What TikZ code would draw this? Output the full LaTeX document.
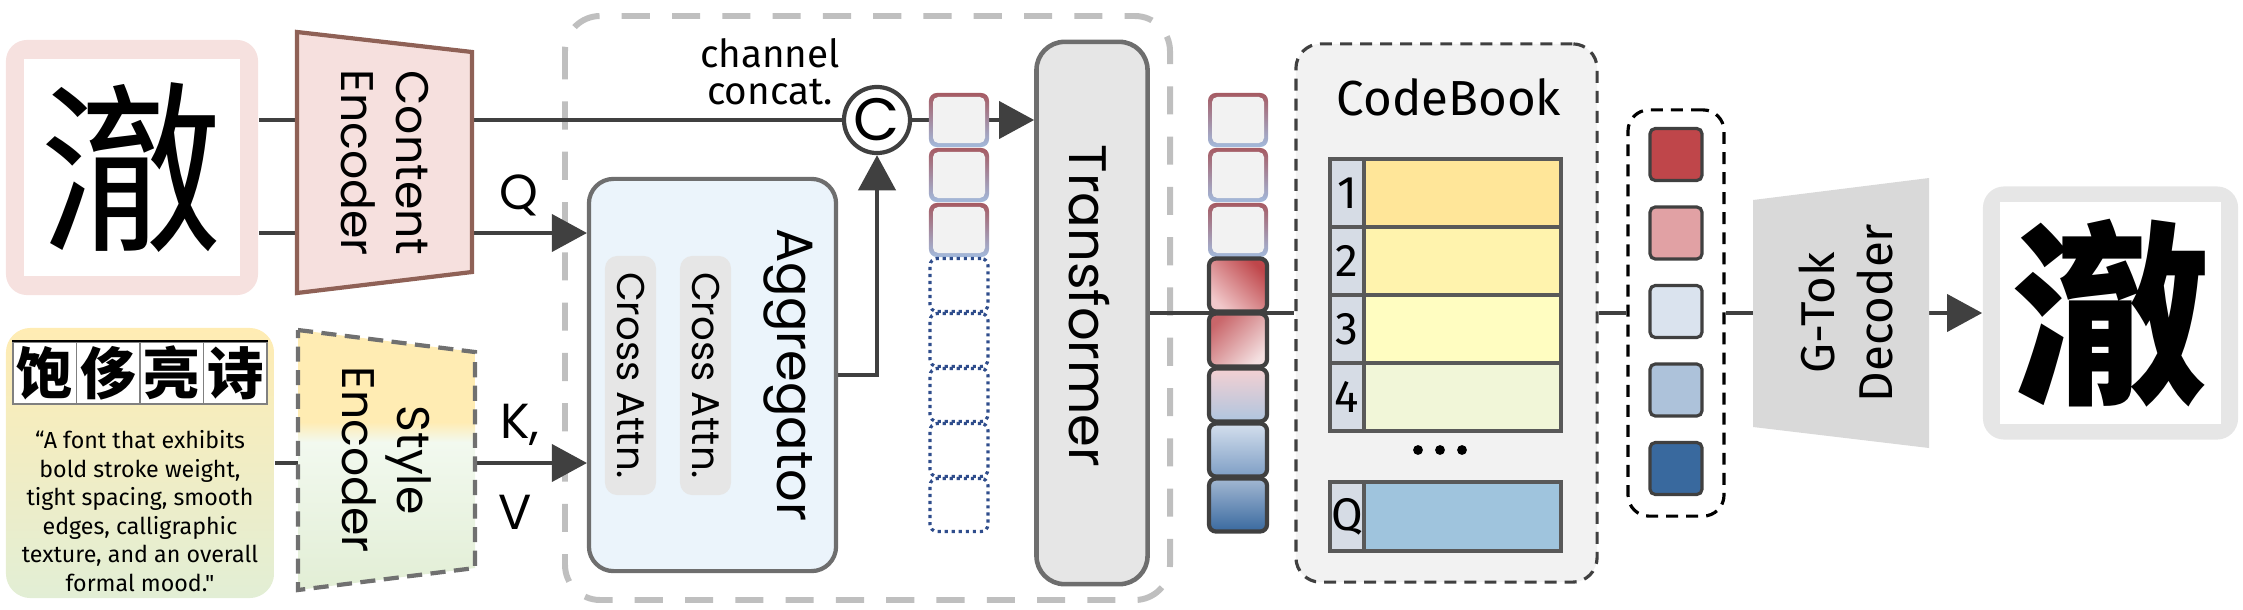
\documentclass[tikz,border=0pt]{standalone}
\usepackage{fontspec}
\setmainfont{Poppins}
\newfontfamily\comicfont{Fira Sans}
\newfontfamily\cjk{Noto Sans CJK SC}
\usetikzlibrary{arrows.meta,backgrounds}

\definecolor{lngray}{HTML}{404040}
\definecolor{pinkbg}{HTML}{F6E1DF}
\definecolor{cefill}{HTML}{F6E0DE}
\definecolor{cebrown}{HTML}{8F6156}
\definecolor{biggray}{HTML}{BFBFBF}
\definecolor{aggblue}{HTML}{EBF4FB}
\definecolor{boxgray}{HTML}{6E6E6E}
\definecolor{pillgray}{HTML}{E6E6E6}
\definecolor{tfgray}{HTML}{E6E6E6}
\definecolor{tokred}{HTML}{A65B63}
\definecolor{tokblue}{HTML}{A3BADC}
\definecolor{tokfill}{HTML}{F2F2F2}
\definecolor{tokdot}{HTML}{2F4D8C}
\definecolor{cbfill}{HTML}{F2F2F2}
\definecolor{rowA}{HTML}{FFE699}
\definecolor{rowB}{HTML}{FFF3AD}
\definecolor{rowC}{HTML}{FFFDC1}
\definecolor{rowD}{HTML}{F1F6D8}
\definecolor{rowQ}{HTML}{9FC4DD}
\definecolor{idxgray}{HTML}{D6DCE5}
\definecolor{rowline}{HTML}{595959}
\definecolor{sqA}{HTML}{BF464A}
\definecolor{sqB}{HTML}{E1A1A4}
\definecolor{sqC}{HTML}{DAE3EE}
\definecolor{sqD}{HTML}{ADC2DA}
\definecolor{sqE}{HTML}{39699E}
\definecolor{tokpinkA}{HTML}{F1C9CB}
\definecolor{tokredB}{HTML}{C9666A}
\definecolor{tokpinkB}{HTML}{F4E0E1}
\definecolor{tokpinkC}{HTML}{F4D0D2}
\definecolor{tokwhiteC}{HTML}{E4E7EF}
\definecolor{tokblueC}{HTML}{AFC5DF}
\definecolor{tokblueD}{HTML}{D4DFED}
\definecolor{tokblueDD}{HTML}{7E9EC5}
\definecolor{tokblueE}{HTML}{A3B8D3}
\definecolor{decgray}{HTML}{D9D9D9}
\definecolor{outgray}{HTML}{E6E6E6}
\definecolor{styyel}{HTML}{FFECB3}
\definecolor{stymint}{HTML}{F2F9EF}
\definecolor{stygreen}{HTML}{E2EED5}
\definecolor{sedash}{HTML}{707070}

\begin{document}
\begin{tikzpicture}[x=0.01cm,y=-0.01cm,
    ln/.style={draw=lngray,line width=1.3pt},
    arr/.style={ln,-{Triangle[length=10pt,width=10.5pt]}},
    enctxt/.style={font=\fontsize{13pt}{15.6pt}\selectfont,align=center,inner sep=0pt},
    kqv/.style={font=\fontsize{14pt}{14pt}\selectfont,inner sep=0pt},
    pill/.style={fill=pillgray,rounded corners=3.5pt,rotate=-90,minimum width=2.39cm,minimum height=0.51cm,inner sep=0pt,font=\fontsize{11pt}{11pt}\selectfont},
    tokrim/.style={top color=tokred,middle color=tokred,bottom color=tokblue,rounded corners=2.2pt,minimum width=0.60cm,minimum height=0.54cm,inner sep=0pt},
    tokcore/.style={fill=tokfill,rounded corners=1.5pt,minimum width=0.52cm,minimum height=0.46cm,inner sep=0pt},
    tokdotted/.style={draw=tokdot,line width=0.9pt,dash pattern=on 0.9pt off 1.1pt,fill=white,rounded corners=2pt,minimum width=0.58cm,minimum height=0.53cm,inner sep=0pt},
    otok/.style={draw=lngray,line width=1.2pt,rounded corners=2pt,minimum width=0.58cm,minimum height=0.53cm,inner sep=0pt},
    cbrow/.style={draw=rowline,line width=0.9pt},
    cbnum/.style={font=\comicfont\fontsize{13pt}{13pt}\selectfont,inner sep=0pt}]
\useasboundingbox (0,0) rectangle (2243,609);

% вхідний символ
\node[fill=pinkbg,rounded corners=6pt,minimum width=2.52cm,minimum height=2.55cm] (src) at (132,167.5) {};
\node[fill=white,inner sep=0pt,minimum width=2.16cm,minimum height=2.17cm,font=\cjk\fontsize{52pt}{52pt}\selectfont] (srcin) at (src.center) {澈};

% кодувальник змісту
\draw[fill=cefill,draw=cebrown,line width=1.2pt] (297,32) -- (472,52) -- (472,272) -- (297,293) -- cycle;
\node[enctxt,rotate=-90] (cetxt) at (385,163) {Content\\Encoder};

% зразки стилю і опис
\node[minimum width=2.68cm,minimum height=2.70cm,rounded corners=7pt,top color=styyel,middle color=stymint,bottom color=stygreen] (sty) at (140,463) {};
\foreach \i/\ch in {0/饱,1/侈,2/亮,3/诗}
  \node[draw=gray,line width=0.4pt,fill=white,inner sep=0pt,minimum width=0.635cm,minimum height=0.62cm,font=\cjk\bfseries\fontsize{16pt}{16pt}\selectfont] (ch\i) at ({44.75+63.5*\i},373) {\ch};
\draw[black,line width=0.6pt] (ch0.north west) -- (ch3.north east);
\node[font=\comicfont\fontsize{6.6pt}{8.1pt}\selectfont,align=center,inner sep=0pt] (quote) at (140,511) {“A font that exhibits\\bold stroke weight,\\tight spacing, smooth\\edges, calligraphic\\texture, and an overall\\formal mood."};

% кодувальник стилю
\begin{scope}
  \clip (298,330) -- (475,352) -- (475,568) -- (298,590) -- cycle;
  \fill[styyel] (298,330) rectangle (475,422);
  \shade[top color=styyel,bottom color=stymint] (298,422) rectangle (475,442);
  \shade[top color=stymint,bottom color=stygreen] (298,442) rectangle (475,590);
\end{scope}
\draw[draw=sedash,line width=1.2pt,dash pattern=on 4.3pt off 2.4pt] (298,330) -- (475,352) -- (475,568) -- (298,590) -- cycle;
\node[enctxt,rotate=-90] (setxt) at (387,460) {Style\\Encoder};

% підписи Q, K, V
\node[kqv] (qlbl) at (519,195) {Q};
\node[kqv] (klbl) at (520,425) {K,};
\node[kqv] (vlbl) at (515,512) {V};
\coordinate (aggq) at (587,233);
\coordinate (aggkv) at (587,463);

% агрегатор
\node[draw=boxgray,line width=1.2pt,fill=aggblue,rounded corners=7pt,minimum width=2.47cm,minimum height=3.92cm] (agg) at (712.5,375) {};
\node[font=\fontsize{14.5pt}{14.5pt}\selectfont,rotate=-90,inner sep=0pt] (aggtxt) at (788,375) {Aggregator};
\node[pill] (ca1) at (630.5,375.5) {Cross Attn.};
\node[pill] (ca2) at (705.5,375.5) {Cross Attn.};

% конкатенація каналів
\node[font=\comicfont\fontsize{11pt}{10.5pt}\selectfont,align=center,inner sep=0pt] (cctxt) at (770,72) {channel\\concat.};
\node[circle,draw=lngray,line width=1.2pt,fill=white,minimum size=0.66cm,inner sep=0pt,font=\fontsize{17pt}{17pt}\selectfont] (cc) at (877,120) {C};

% токени до і після трансформера
\foreach \x in {959,1238}
  \foreach \k in {0,1,2} {
    \node[tokrim] at (\x,{120+55*\k}) {};
    \node[tokcore] at (\x,{120+55*\k}) {};
  }
\foreach \k in {3,...,7}
  \node[tokdotted] (it\k) at (959,{120+55*\k}) {};
\node[otok,top color=sqA,bottom color=tokpinkA,shading angle=-45] (ot3) at (1238,285) {};
\node[otok,top color=tokredB,bottom color=tokpinkB,shading angle=45] (ot4) at (1238,340) {};
\node[otok,top color=tokpinkC,middle color=tokwhiteC,bottom color=tokblueC] (ot5) at (1238,395) {};
\node[otok,top color=tokblueD,bottom color=tokblueDD] (ot6) at (1238,450) {};
\node[otok,top color=tokblueE,bottom color=sqE] (ot7) at (1238,505) {};

% трансформер
\node[draw=boxgray,line width=1.3pt,fill=tfgray,rounded corners=8pt,minimum width=1.11cm,minimum height=5.42cm] (tf) at (1092,313) {};
\node[font=\fontsize{15pt}{15pt}\selectfont,rotate=-90,inner sep=0pt] (tftxt) at (1089,306) {Transformer};

% кодова книга
\node[draw=lngray,line width=0.9pt,dash pattern=on 3.4pt off 2.3pt,fill=cbfill,rounded corners=7pt,minimum width=3.01cm,minimum height=5.38cm] (cb) at (1446.5,313) {};
\node[font=\comicfont\fontsize{14pt}{14pt}\selectfont,inner sep=0pt] (cbtxt) at (1449,97) {CodeBook};
\foreach \i/\c in {1/rowA,2/rowB,3/rowC,4/rowD} {
  \draw[cbrow,fill=\c] (1364,{91+68*\i}) rectangle (1561,{159+68*\i});
  \draw[cbrow,fill=idxgray] (1330,{91+68*\i}) rectangle (1364,{159+68*\i});
  \node[cbnum] (idx\i) at (1347,{125+68*\i}) {\i};
}
\foreach \dx in {-22,0,22}
  \fill (1440+\dx,450) circle (1.4pt);
\draw[cbrow,fill=rowQ] (1364,482) rectangle (1561,551);
\draw[cbrow,fill=idxgray] (1330,482) rectangle (1364,551);
\node[cbnum] (idxq) at (1347,516.5) {Q};

% вибрані коди
\node[draw=black,line width=0.9pt,dash pattern=on 3.4pt off 2.3pt,rounded corners=6pt,minimum width=0.96cm,minimum height=4.06cm] (grp) at (1676,313) {};
\foreach \i/\c in {0/sqA,1/sqB,2/sqC,3/sqD,4/sqE}
  \node[draw=lngray,line width=0.9pt,fill=\c,rounded corners=1.5pt,minimum size=0.52cm] (sq\i) at (1676,{154.5+78.5*\i}) {};

% декодер
\fill[decgray] (1753,200) -- (1929,178) -- (1929,448) -- (1753,427) -- cycle;
\node[font=\comicfont\fontsize{13.5pt}{16.5pt}\selectfont,align=center,rotate=90,inner sep=0pt] (dectxt) at (1846,313) {G-Tok\\Decoder};

% результат
\node[fill=outgray,rounded corners=6pt,minimum width=2.55cm,minimum height=2.53cm] (out) at (2110.5,313) {};
\node[fill=white,inner sep=0pt,minimum width=2.21cm,minimum height=2.21cm,font=\cjk\bfseries\fontsize{56pt}{56pt}\selectfont] (outin) at (out.center) {澈};

% з'єднання під блоками
\begin{scope}[on background layer]
  \draw[draw=biggray,line width=1.7pt,dash pattern=on 8pt off 6.3pt,rounded corners=10pt] (565,16) rectangle (1170,600);
  \draw[ln] (src.east |- cc.west) -- (cc.west);
  \draw[arr] (src.east |- aggq) -- (aggq);
  \draw[arr] (sty.east |- aggkv) -- (aggkv);
  \draw[arr] (agg.east) -| (cc.south);
  \draw[arr] (cc.east) -- (cc.east -| tf.west);
  \draw[ln] (tf.east) -- (cb.west);
  \draw[ln] (cb.east) -- (grp.west);
  \draw[arr] (grp.east) -- (out.west);
\end{scope}

\end{tikzpicture}
\end{document}
